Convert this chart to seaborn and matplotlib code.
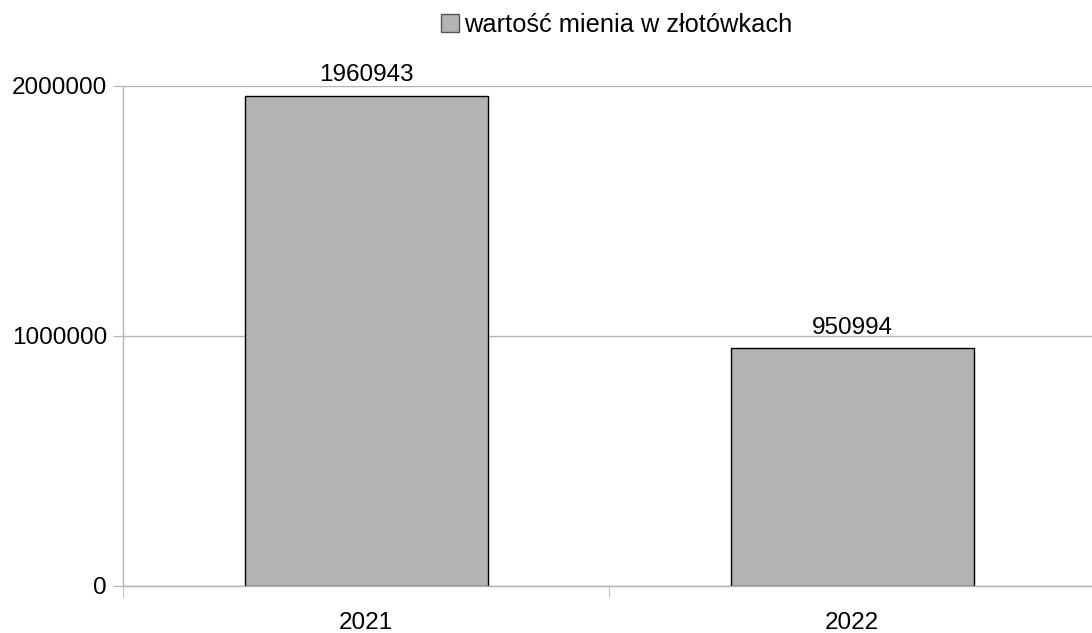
import matplotlib
matplotlib.use("Agg")
import matplotlib.pyplot as plt
import seaborn as sns
import pandas as pd
from matplotlib.patches import Patch
from matplotlib.ticker import FixedLocator

years = ["2021", "2022"]
values = [1960943, 950994]
series_name = "wartość mienia w złotówkach"

df = pd.DataFrame({"rok": years, "wartosc": values})

sns.set_style("white")
plt.rcParams["font.family"] = ["Liberation Sans", "DejaVu Sans"]
plt.rcParams["text.color"] = "black"

fig = plt.figure(figsize=(10.92, 6.33), dpi=100)
ax = fig.add_axes([123 / 1092, 1 - 586 / 633, (1095 - 123) / 1092, (586 - 86) / 633])

sns.barplot(data=df, x="rok", y="wartosc", color="#b3b3b3", edgecolor="black",
            linewidth=1, width=0.5, saturation=1, ax=ax)

ax.set_ylim(0, 2000000)
ax.set_xlim(-0.5, 1.5)
ax.set_yticks([0, 1000000, 2000000])
ax.set_yticklabels(["0", "1000000", "2000000"])
ax.yaxis.grid(True, color="#b3b3b3", linewidth=1)
ax.set_axisbelow(True)
ax.set_xlabel("")
ax.set_ylabel("")

for s in ["top", "right"]:
    ax.spines[s].set_visible(False)
for s in ["left", "bottom"]:
    ax.spines[s].set_color("#b3b3b3")
    ax.spines[s].set_linewidth(1)

# dlugosci tickow w punktach (100 dpi)
ax.tick_params(axis="y", length=7.2, color="#b3b3b3", labelsize=17.5, pad=4.3, left=True,
               labelcolor="black")
ax.tick_params(axis="x", which="major", length=0, labelsize=17.5, pad=19, labelcolor="black")
ax.xaxis.set_minor_locator(FixedLocator([-0.5, 0.5, 1.5]))
ax.tick_params(axis="x", which="minor", length=8, color="#b3b3b3", bottom=True)

for i, v in enumerate(values):
    ax.annotate(str(v), (i, v), xytext=(0, 7), textcoords="offset points",
                ha="center", va="bottom", fontsize=17.5, color="black")

handle = Patch(facecolor="#b3b3b3", edgecolor="#555555", linewidth=1)
fig.legend([handle], [series_name], loc="upper center", bbox_to_anchor=(0.565, 1.0),
           frameon=False, fontsize=18.3, handlelength=0.7, handleheight=0.7,
           handletextpad=0.2, borderaxespad=0.1, labelcolor="black")

fig.savefig("out.png", dpi=100)
